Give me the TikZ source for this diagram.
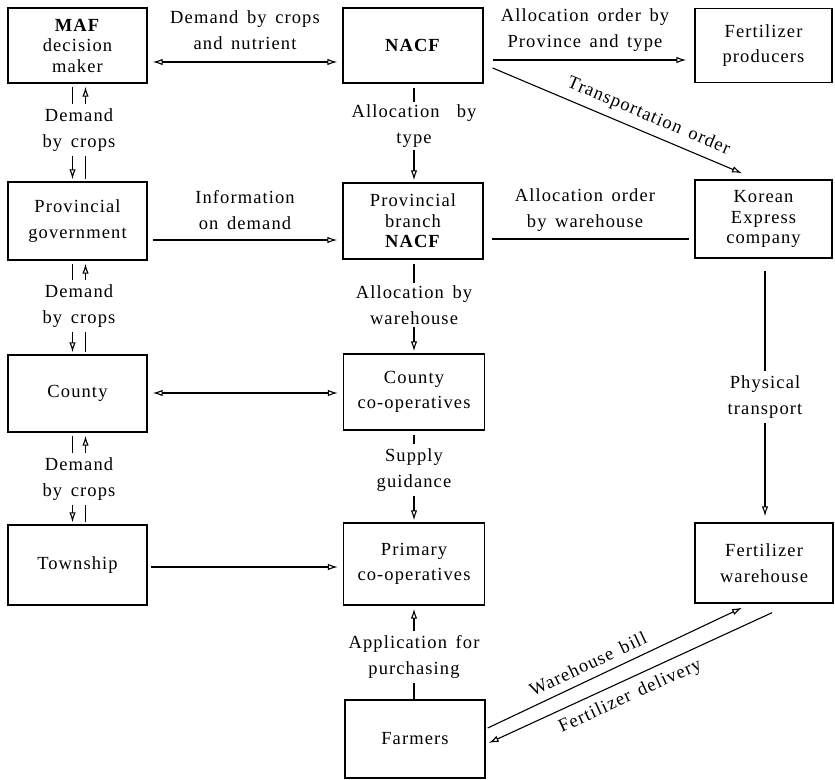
\documentclass[tikz,border=0pt]{standalone}
\usepackage{fontspec}
\setmainfont{Liberation Serif}[LetterSpace=6,WordSpace=1.5]
\usetikzlibrary{arrows.meta}
\begin{document}
\begin{tikzpicture}[x=1pt,y=-1pt,
  >={Latex[open,length=10pt,width=6.5pt,line width=1.1pt]},
  box/.style={draw,line width=1.4pt,align=center,inner sep=0pt,
    font=\fontsize{18.5}{25.5}\selectfont},
  box3/.style={box,font=\fontsize{18.5}{20.5}\selectfont},
  lbl/.style={align=center,inner sep=1pt,font=\fontsize{18.5}{25.5}\selectfont},
  cover/.style={lbl,fill=white,inner xsep=2pt,inner ysep=5pt},
  conn/.style={line width=1.1pt}]
\useasboundingbox (0,0) rectangle (835,779);

% boxes
\node[box3,minimum width=139pt,minimum height=75pt] (maf) at (77.5,45.5) {\textbf{MAF}\\decision\\maker};
\node[box,minimum width=140pt,minimum height=75pt] (nacf) at (413,45.5) {\textbf{NACF}};
\node[box,minimum width=137pt,minimum height=74pt] (fp) at (763.5,45.5) {Fertilizer\\producers};
\node[box,minimum width=139pt,minimum height=78pt] (pg) at (77.5,221) {Provincial\\government};
\node[box3,minimum width=140pt,minimum height=76pt] (pb) at (413,221) {Provincial\\branch\\\textbf{NACF}};
\node[box3,minimum width=137pt,minimum height=78pt] (ke) at (763.5,219) {Korean\\Express\\company};
\node[box,minimum width=139pt,minimum height=77pt] (county) at (77.5,393.5) {County};
\node[box,minimum width=141pt,minimum height=76pt] (cc) at (414,392) {County\\co-operatives};
\node[box,minimum width=139pt,minimum height=80pt] (town) at (77.5,565) {Township};
\node[box,minimum width=141pt,minimum height=82pt] (pc) at (414,564) {Primary\\co-operatives};
\node[box,minimum width=138pt,minimum height=80pt] (fw) at (764,563) {Fertilizer\\warehouse};
\node[box,minimum width=140pt,minimum height=78pt] (farm) at (415,739) {Farmers};

% horizontal connectors
\draw[conn,<->,shorten <=5pt,shorten >=5pt] ([yshift=-16.5pt]maf.east) -- ([yshift=-16.5pt]nacf.west);
\draw[conn,->,shorten <=9pt,shorten >=8pt] ([yshift=-14.5pt]nacf.east) -- ([yshift=-14.5pt]fp.west);
\draw[conn,->] ([xshift=9pt,yshift=-22.5pt]nacf.east) -- ([xshift=-21.5pt,yshift=6pt]ke.north)
  node[lbl,pos=0.6,above=6pt,sloped] {Transportation order};
\draw[conn,->,shorten <=5pt,shorten >=5pt] ([yshift=-19pt]pg.east) -- ([yshift=-19pt]pb.west);
\draw[conn,shorten <=8pt,shorten >=5pt] ([yshift=-18pt]pb.east) -- ([yshift=-20pt]ke.west);
\draw[conn,<->,shorten <=5pt,shorten >=5pt] ([yshift=0.5pt]county.east) -- ([yshift=-1pt]cc.west);
\draw[conn,->,shorten <=3pt,shorten >=5pt] ([yshift=-2pt]town.east) -- ([yshift=-3pt]pc.west);

% left column pairs
\draw[conn,->,shorten <=3pt,shorten >=2pt] ([xshift=-5pt]maf.south) -- ([xshift=-5pt]pg.north);
\draw[conn,<-,shorten <=3pt,shorten >=2pt] ([xshift=8pt]maf.south) -- ([xshift=8pt]pg.north);
\draw[conn,->,shorten <=3pt,shorten >=2pt] ([xshift=-5pt]pg.south) -- ([xshift=-5pt]county.north);
\draw[conn,<-,shorten <=3pt,shorten >=2pt] ([xshift=8pt]pg.south) -- ([xshift=8pt]county.north);
\draw[conn,->,shorten <=3pt,shorten >=2pt] ([xshift=-5pt]county.south) -- ([xshift=-5pt]town.north);
\draw[conn,<-,shorten <=3pt,shorten >=2pt] ([xshift=8pt]county.south) -- ([xshift=8pt]town.north);

% middle column
\draw[conn,->,shorten <=4pt,shorten >=2pt] ([xshift=1pt]nacf.south) -- ([xshift=1pt]pb.north);
\draw[conn,->,shorten <=4pt,shorten >=2pt] ([xshift=1pt]pb.south) -- (cc.north);
\draw[conn,->,shorten <=4pt,shorten >=2pt] (cc.south) -- (pc.north);
\draw[conn,->,shorten >=3pt] ([xshift=-1pt]farm.north) -- (pc.south);

% right column
\draw[conn,->,shorten <=12pt,shorten >=6pt] ([xshift=1.5pt]ke.south) -- ([xshift=1pt]fw.north);
\draw[conn,->] ([xshift=2pt,yshift=11pt]farm.east) -- ([xshift=-22pt,yshift=-4pt]fw.south)
  node[lbl,pos=0.42,above=7pt,sloped] {Warehouse bill};
\draw[conn,->] ([xshift=8pt,yshift=-9pt]fw.south) -- ([xshift=3pt,yshift=-4pt]farm.east)
  node[lbl,pos=0.525,below=7pt,sloped] {Fertilizer delivery};

% labels
\node[lbl] (l1) at (245,30) {Demand by crops\\and nutrient};
\node[lbl] (l2) at (585,30) {Allocation order by\\Province and type};
\node[lbl] (l3) at (245,210) {Information\\on demand};
\node[lbl] (l4) at (585,210) {Allocation order\\by warehouse};
\node[cover] (l5) at (79,130) {Demand\\by crops};
\node[cover] (l6) at (79,306) {Demand\\by crops};
\node[cover] (l7) at (79,479) {Demand\\by crops};
\node[cover,inner ysep=3pt] (l8) at (414,126) {Allocation\ \ by\\type};
\node[cover,inner ysep=3pt] (l9) at (414,305) {Allocation by\\warehouse};
\node[cover] (l10) at (414,470) {Supply\\guidance};
\node[cover] (l11) at (414,657) {Application for\\purchasing};
\node[cover] (l12) at (765,397) {Physical\\transport};
\end{tikzpicture}
\end{document}
